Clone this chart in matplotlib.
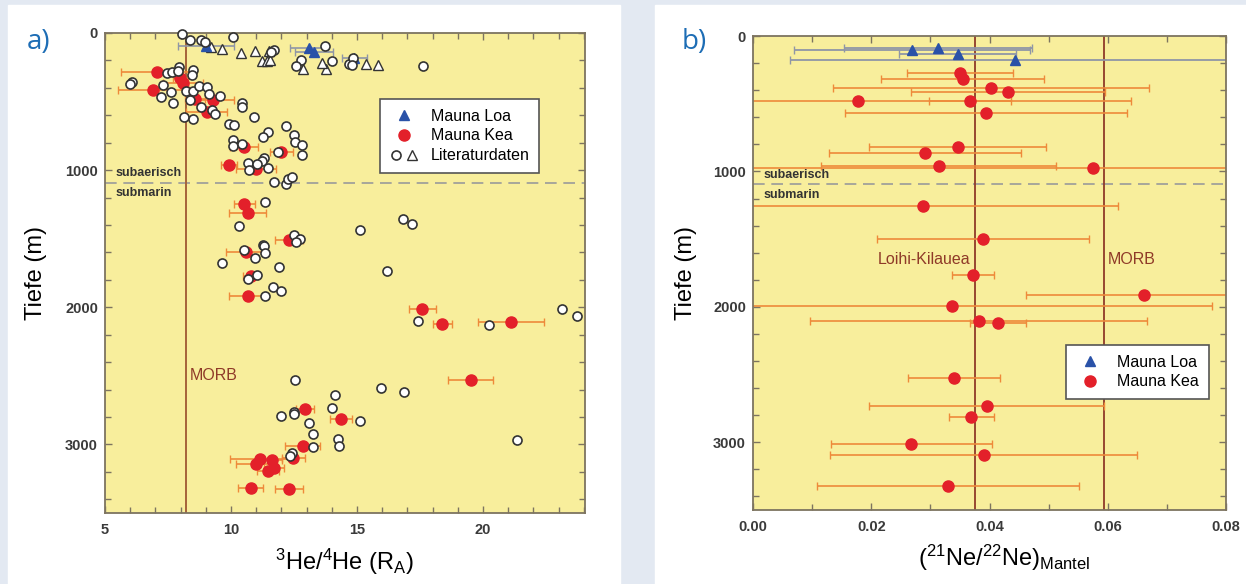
"""
Recreate the two-panel depth profile: 3He/4He and (21Ne/22Ne)_Mantel vs depth.
"""

import matplotlib

matplotlib.use("Agg")
import matplotlib.pyplot as plt
from matplotlib.legend_handler import HandlerTuple
from matplotlib.lines import Line2D
from matplotlib.patches import Rectangle
from matplotlib.ticker import MultipleLocator

plt.rcParams["font.family"] = ["Liberation Sans", "DejaVu Sans"]
plt.rcParams["mathtext.fontset"] = "custom"
plt.rcParams["mathtext.rm"] = "Liberation Sans"
plt.rcParams["mathtext.it"] = "Liberation Sans:italic"
plt.rcParams["mathtext.bf"] = "Liberation Sans:bold"

# ---- panel a: helium ----------------------------------------------------
he_loa_x = [9.0, 13.1, 13.3, 14.9]
he_loa_y = [95, 112, 135, 185]
he_loa_err = [1.1, 0.75, 0.75, 0.5]

he_kea_x = [7.05, 6.92, 7.98, 8.1, 8.57, 9.3, 9.03, 10.53, 12.0, 9.92, 11.0,
            10.53, 10.66, 12.31, 10.6, 10.79, 10.66, 17.6, 18.39, 21.11, 19.51,
            12.94, 14.37, 12.84, 12.47, 11.15, 10.99, 11.64, 11.7, 11.48, 10.78, 12.3]
he_kea_y = [287, 418, 328, 365, 482, 491, 577, 832, 869, 966, 990,
            1250, 1309, 1506, 1596, 1774, 1920, 2010, 2119, 2104, 2528,
            2740, 2812, 3015, 3100, 3105, 3141, 3117, 3170, 3195, 3319, 3328]
he_kea_err = [1.4, 1.4, 0.3, 0.8, 0.4, 0.8, 0.8, 0.55, 0.47, 0.3, 0.8,
              0.43, 0.74, 0.56, 0.8, 0.3, 0.73, 0.53, 0.38, 1.3, 0.88,
              0.35, 0.44, 0.7, 0.45, 1.2, 0.8, 0.4, 0.4, 0.43, 0.5, 0.56]

lit_circ_x = [8.04, 8.37, 8.81, 8.97, 10.09, 11.72, 11.6, 12.78, 12.6, 13.75,
              14.02, 14.69, 14.85, 14.81, 17.63,
              6.06, 5.99, 7.45, 7.64, 7.94, 7.91, 8.48, 8.44, 7.31, 7.62, 7.22,
              7.71, 8.21, 8.48, 8.73, 9.06, 9.13, 9.56, 8.37, 8.81, 9.26, 9.37,
              8.15, 8.5, 10.42, 10.45, 10.93, 9.92, 10.13, 12.2, 11.48, 11.29,
              12.51, 12.54, 12.8, 12.8, 10.09, 10.09, 10.42, 11.88, 11.32, 11.24,
              10.69, 11.02, 10.71, 11.48,
              11.69, 12.18, 12.27, 12.43,
              11.35, 10.32, 12.5, 12.74, 12.6, 11.28, 11.32, 10.5, 11.35, 10.96,
              9.64, 11.9, 15.12, 16.81, 17.17, 16.21, 11.02, 10.66, 11.66, 12.0,
              11.35,
              17.44, 20.24, 23.12, 23.75,
              12.54, 15.97, 16.88, 14.13, 13.99, 12.0, 12.5, 12.52, 15.14, 13.11,
              13.27, 14.23, 14.29, 13.27, 21.37, 12.44, 12.34]
lit_circ_y = [7, 54, 49, 66, 31, 127, 140, 200, 243, 97,
              207, 224, 182, 231, 239,
              358, 372, 292, 287, 250, 280, 273, 309, 377, 431, 469,
              511, 426, 421, 389, 396, 445, 462, 487, 542, 560, 589,
              615, 625, 511, 542, 615, 662, 674, 677, 723, 759,
              742, 796, 815, 888, 779, 827, 810, 871, 912, 932,
              949, 956, 998, 985,
              1085, 1102, 1061, 1049,
              1231, 1407, 1474, 1499, 1523, 1547, 1555, 1579, 1603, 1637,
              1679, 1706, 1438, 1353, 1396, 1737, 1764, 1793, 1849, 1881,
              1920,
              2102, 2127, 2010, 2066,
              2533, 2586, 2618, 2642, 2732, 2793, 2764, 2775, 2830, 2842,
              2922, 2963, 3012, 3020, 2971, 3061, 3088]

lit_tri_x = [9.21, 9.63, 10.38, 10.95, 11.51, 11.24, 11.41, 11.55, 12.85,
             13.77, 13.62, 15.34, 15.85]
lit_tri_y = [104, 117, 146, 134, 134, 207, 207, 200, 263, 261, 220, 226, 236]

he_morb = 8.2

# ---- panel b: neon ------------------------------------------------------
ne_loa_x = [0.0269, 0.0313, 0.0346, 0.0443]
ne_loa_y = [103, 90, 130, 180]
ne_loa_err = [0.0200, 0.0159, 0.0099, 0.038]

ne_kea_x = [0.0350, 0.0355, 0.0402, 0.0431, 0.0177, 0.0367, 0.0394, 0.0346,
            0.0291, 0.0314, 0.0575, 0.0287, 0.0389, 0.0372, 0.0662, 0.0337,
            0.0382, 0.0414, 0.0340, 0.0395, 0.0369, 0.0268, 0.0390, 0.0330]
ne_kea_y = [276, 318, 386, 416, 478, 478, 566, 822, 862, 958, 977, 1253,
            1502, 1765, 1913, 1994, 2105, 2117, 2528, 2733, 2816, 3016, 3095, 3323]
ne_kea_err = [0.0089, 0.0138, 0.0267, 0.0164, 0.0463, 0.0069, 0.0239, 0.0149,
              0.0162, 0.0199, 0.0600, 0.0330, 0.0180, 0.0035, 0.0201, 0.0439,
              0.0285, 0.0047, 0.0078, 0.0199, 0.0038, 0.0136, 0.0260, 0.0221]

ne_loihi = 0.0375
ne_morb = 0.0593

boundary_depth = 1095

# ---- colours -------------------------------------------------------------
BG = "#e3e9f2"
YELLOW = "#f8ee9c"
SPINE = "#7d7460"
RED = "#e3202a"
ORANGE = "#ee8a3a"
BLUE = "#2a52a8"
GREY_ERR = "#8f96a6"
BROWN = "#8f3a28"
LETTER = "#1d6db5"


def style_axes(ax, xlim, xmajor, xminor, xfmt=None):
    ax.set_facecolor(YELLOW)
    ax.set_xlim(*xlim)
    ax.set_ylim(3500, 0)
    ax.xaxis.set_major_locator(MultipleLocator(xmajor))
    ax.xaxis.set_minor_locator(MultipleLocator(xminor))
    ax.yaxis.set_major_locator(MultipleLocator(1000))
    ax.yaxis.set_minor_locator(MultipleLocator(200))
    if xfmt:
        ax.xaxis.set_major_formatter(xfmt)
    ax.tick_params(which="both", direction="in", top=True, right=True,
                   color=SPINE, width=1.0, labelsize=10.5, labelcolor="#3a3a3a")
    ax.tick_params(which="major", length=5)
    ax.tick_params(which="minor", length=4)
    ax.tick_params(axis="y", pad=5)
    ax.tick_params(axis="x", pad=7)
    for lab in ax.get_xticklabels() + ax.get_yticklabels():
        lab.set_fontweight("bold")
    for s in ax.spines.values():
        s.set_color(SPINE)
        s.set_linewidth(1.3)
    ax.axhline(boundary_depth, color="#9a9a9a", lw=1.2, dashes=(7, 4), zorder=1)
    ax.set_ylabel("Tiefe (m)", fontsize=17)


def main():
    fig = plt.figure(figsize=(12.46, 5.84), dpi=100, facecolor=BG)
    fig.patches.append(Rectangle((8 / 1246, 0), 612 / 1246, 579 / 584,
                                 transform=fig.transFigure, color="white", zorder=-1))
    fig.patches.append(Rectangle((655 / 1246, 0), 591 / 1246, 579 / 584,
                                 transform=fig.transFigure, color="white", zorder=-1))

    ax1 = fig.add_axes([105 / 1246, 71 / 584, 480 / 1246, 480 / 584])
    ax2 = fig.add_axes([753 / 1246, 74 / 584, 473 / 1246, 474 / 584])

    # panel a
    style_axes(ax1, (5, 24.05), 5, 1)
    ax1.axvline(he_morb, color="#a5633a", lw=1.4, zorder=1)
    ax1.errorbar(he_loa_x, he_loa_y, xerr=he_loa_err, fmt="none", ecolor=GREY_ERR,
                 elinewidth=1.2, capsize=3, zorder=2)
    ax1.errorbar(he_kea_x, he_kea_y, xerr=he_kea_err, fmt="none", ecolor=ORANGE,
                 elinewidth=1.2, capsize=3, zorder=2)
    ax1.plot(lit_tri_x, lit_tri_y, "^", ms=6.5, mfc="white", mec="#333333",
             mew=1.0, ls="none", zorder=3, clip_on=False)
    ax1.plot(he_loa_x, he_loa_y, "^", ms=7, color=BLUE, ls="none", zorder=4)
    ax1.plot(he_kea_x, he_kea_y, "o", ms=8, color=RED, ls="none", zorder=4)
    ax1.plot(lit_circ_x, lit_circ_y, "o", ms=6.5, mfc="white", mec="#333333",
             mew=1.2, ls="none", zorder=5, clip_on=False)

    ax1.text(5.4, 1022, "subaerisch", fontsize=9, fontweight="bold", color="#333333",
             va="center")
    ax1.text(5.4, 1168, "submarin", fontsize=9, fontweight="bold", color="#333333",
             va="center")
    ax1.text(8.35, 2500, "MORB", fontsize=11.5, color=BROWN, va="center")
    ax1.set_xlabel(r"$^{3}$He/$^{4}$He (R$_{\mathrm{A}}$)", fontsize=17)
    ax1.xaxis.set_label_coords(0.5, -0.07)
    ax1.yaxis.set_label_coords(-0.12, 0.5)

    h_loa = Line2D([], [], marker="^", ms=7, color=BLUE, ls="none")
    h_kea = Line2D([], [], marker="o", ms=8, color=RED, ls="none")
    h_lc = Line2D([], [], marker="o", ms=6.5, mfc="white", mec="#333333", mew=1.2, ls="none")
    h_lt = Line2D([], [], marker="^", ms=6.5, mfc="white", mec="#333333", mew=1.0, ls="none")
    leg = ax1.legend([h_loa, h_kea, (h_lc, h_lt)], ["Mauna Loa", "Mauna Kea", "Literaturdaten"],
                     handler_map={tuple: HandlerTuple(ndivide=None, pad=0.2)},
                     loc="upper left", bbox_to_anchor=(0.556, 0.879), fontsize=11.5,
                     fancybox=False, edgecolor="#555555", framealpha=1,
                     handlelength=1.8, labelspacing=0.3, borderpad=0.6)
    leg.get_frame().set_linewidth(1.2)

    # panel b
    style_axes(ax2, (0, 0.08), 0.02, 0.01, xfmt="{x:.2f}")
    ax2.axvline(ne_loihi, color=BROWN, lw=1.3, zorder=1)
    ax2.axvline(ne_morb, color=BROWN, lw=1.3, zorder=1)
    ax2.errorbar(ne_loa_x, ne_loa_y, xerr=ne_loa_err, fmt="none", ecolor=GREY_ERR,
                 elinewidth=1.3, capsize=3, zorder=2)
    ax2.errorbar(ne_kea_x, ne_kea_y, xerr=ne_kea_err, fmt="none", ecolor=ORANGE,
                 elinewidth=1.2, capsize=3, zorder=2)
    ax2.plot(ne_loa_x, ne_loa_y, "^", ms=7, color=BLUE, ls="none", zorder=4)
    ax2.plot(ne_kea_x, ne_kea_y, "o", ms=8, color=RED, ls="none", zorder=4)

    ax2.text(0.0017, 1027, "subaerisch", fontsize=9, fontweight="bold", color="#333333",
             va="center")
    ax2.text(0.0017, 1174, "submarin", fontsize=9, fontweight="bold", color="#333333",
             va="center")
    ax2.text(0.0368, 1654, "Loihi-Kilauea", fontsize=11.5, color=BROWN, va="center",
             ha="right")
    ax2.text(0.0600, 1654, "MORB", fontsize=11.5, color=BROWN, va="center")
    ax2.set_xlabel(r"($^{21}$Ne/$^{22}$Ne)$_{\mathrm{Mantel}}$", fontsize=17)
    ax2.xaxis.set_label_coords(0.53, -0.07)
    ax2.yaxis.set_label_coords(-0.118, 0.5)

    leg2 = ax2.legend([h_loa, h_kea], ["Mauna Loa", "Mauna Kea"],
                      loc="upper left", bbox_to_anchor=(0.645, 0.365), fontsize=11.5,
                      fancybox=False, edgecolor="#555555", framealpha=1,
                      handlelength=1.8, labelspacing=0.3, borderpad=0.6)
    leg2.get_frame().set_linewidth(1.2)

    fig.text(27 / 1246, 1 - 42 / 584, "a)", fontsize=20, color=LETTER,
             family=["Open Sans", "DejaVu Sans"], va="center")
    fig.text(682 / 1246, 1 - 42 / 584, "b)", fontsize=20, color=LETTER,
             family=["Open Sans", "DejaVu Sans"], va="center")

    fig.savefig("out.png", dpi=100, facecolor=BG)
    plt.close(fig)


if __name__ == "__main__":
    main()
